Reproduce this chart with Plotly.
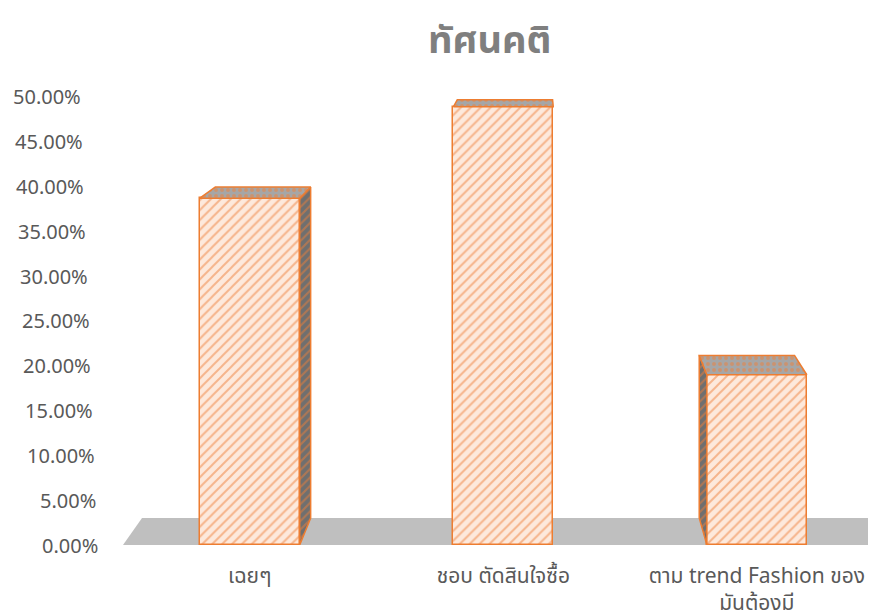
import plotly.graph_objects as go

# ---- data ----
categories = ["เฉยๆ", "ชอบ ตัดสินใจซื้อ", "ตาม trend Fashion ของ<br>มันต้องมี"]
values = [38.7, 48.9, 19.0]
y_ticks = [0, 5, 10, 15, 20, 25, 30, 35, 40, 45, 50]
y_tick_labels = ["0.00%", "5.00%", "10.00%", "15.00%", "20.00%", "25.00%",
                 "30.00%", "35.00%", "40.00%", "45.00%", "50.00%"]
title_text = "ทัศนคติ"

# ---- style / geometry ----
# the page body adds an 8px margin, so the figure is 8px smaller
W, H = 868, 608
ML, MR, MT, MB = 115, 0, 71, 71
X_RANGE = [-0.5, 2.47]
Y_RANGE = [0, 52]
BAR_W = 0.394
ORANGE = "#ED7D31"
FRONT_BG = "#FDE9DC"
FG_PAT = "#EE7F3A"
TOP_BG = "#A6A6A6"
SIDE_BG = "#6F6F6F"
FLOOR = "#BFBFBF"
TEXT = "#595959"
FONT = "Noto Sans, Noto Sans Thai, Loma, Garuda, sans-serif"

# perspective (vanishing point in data coords, depth factor)
VX, VY, C = 1.141, 65.96, 0.0457


def back(p):
    return (p[0] + C * (VX - p[0]), p[1] + C * (VY - p[1]))


xs = list(range(len(categories)))
fig = go.Figure()

fig.add_trace(go.Bar(
    x=xs, y=values, width=BAR_W,
    marker=dict(color=FRONT_BG,
                line=dict(color=ORANGE, width=1.5),
                pattern=dict(shape="/", fgcolor=FG_PAT, bgcolor=FRONT_BG,
                             size=7, solidity=0.28, fillmode="overlay")),
    hoverinfo="skip", showlegend=False,
))


def poly(pts, bg, shape):
    xx = [p[0] for p in pts] + [pts[0][0]]
    yy = [p[1] for p in pts] + [pts[0][1]]
    fig.add_trace(go.Scatter(
        x=xx, y=yy, mode="lines", fill="toself", fillcolor=bg,
        fillpattern=dict(shape=shape, fgcolor=FG_PAT, bgcolor=bg, size=6,
                         solidity=0.35),
        line=dict(color=ORANGE, width=1.5), hoverinfo="skip", showlegend=False,
    ))


for xi, v in zip(xs, values):
    xl, xr = xi - BAR_W / 2, xi + BAR_W / 2
    # side faces (only the visible one)
    if back((xr, v))[0] > xr + 0.005:
        poly([(xr, 0), (xr, v), back((xr, v)), back((xr, 0))], SIDE_BG, "/")
    if back((xl, v))[0] < xl - 0.005:
        poly([(xl, 0), (xl, v), back((xl, v)), back((xl, 0))], SIDE_BG, "/")
    # top face
    poly([(xl, v), (xr, v), back((xr, v)), back((xl, v))], TOP_BG, ".")

# floor
f_pts = [(X_RANGE[0], 0), (2.56, 0), back((2.56, 0)), back((X_RANGE[0], 0))]
path = "M " + " L ".join(f"{p[0]},{p[1]}" for p in f_pts) + " Z"
fig.add_shape(type="path", path=path, xref="x", yref="y", layer="below",
              fillcolor=FLOOR, line=dict(width=0))

# y tick labels (slanted like the reference perspective axis)
plot_w = W - ML - MR
for t, lab in zip(y_ticks, y_tick_labels):
    px_right = 92 - (92 - 75) * t / 50.0
    fig.add_annotation(text=lab, x=(px_right - ML) / plot_w, xref="paper",
                       y=t, yref="y", xanchor="right", yanchor="middle",
                       showarrow=False, font=dict(size=20, color=TEXT, family=FONT))

fig.update_layout(
    width=W, height=H,
    margin=dict(l=ML, r=MR, t=MT, b=MB),
    paper_bgcolor="white", plot_bgcolor="white",
    title=dict(text=f"<b>{title_text}</b>", x=0.555, xanchor="center", y=0.948,
               yanchor="middle", font=dict(size=38, color="#7F7F7F", family=FONT)),
    xaxis=dict(range=X_RANGE, tickvals=xs, ticktext=categories, showgrid=False,
               zeroline=False, showline=False, ticks="", ticklabelstandoff=16,
               tickfont=dict(size=21, color=TEXT, family=FONT), fixedrange=True),
    yaxis=dict(range=Y_RANGE, showgrid=False, zeroline=False, showline=False,
               showticklabels=False, ticks="", fixedrange=True),
    bargap=0,
)

fig.write_html("out.html")
